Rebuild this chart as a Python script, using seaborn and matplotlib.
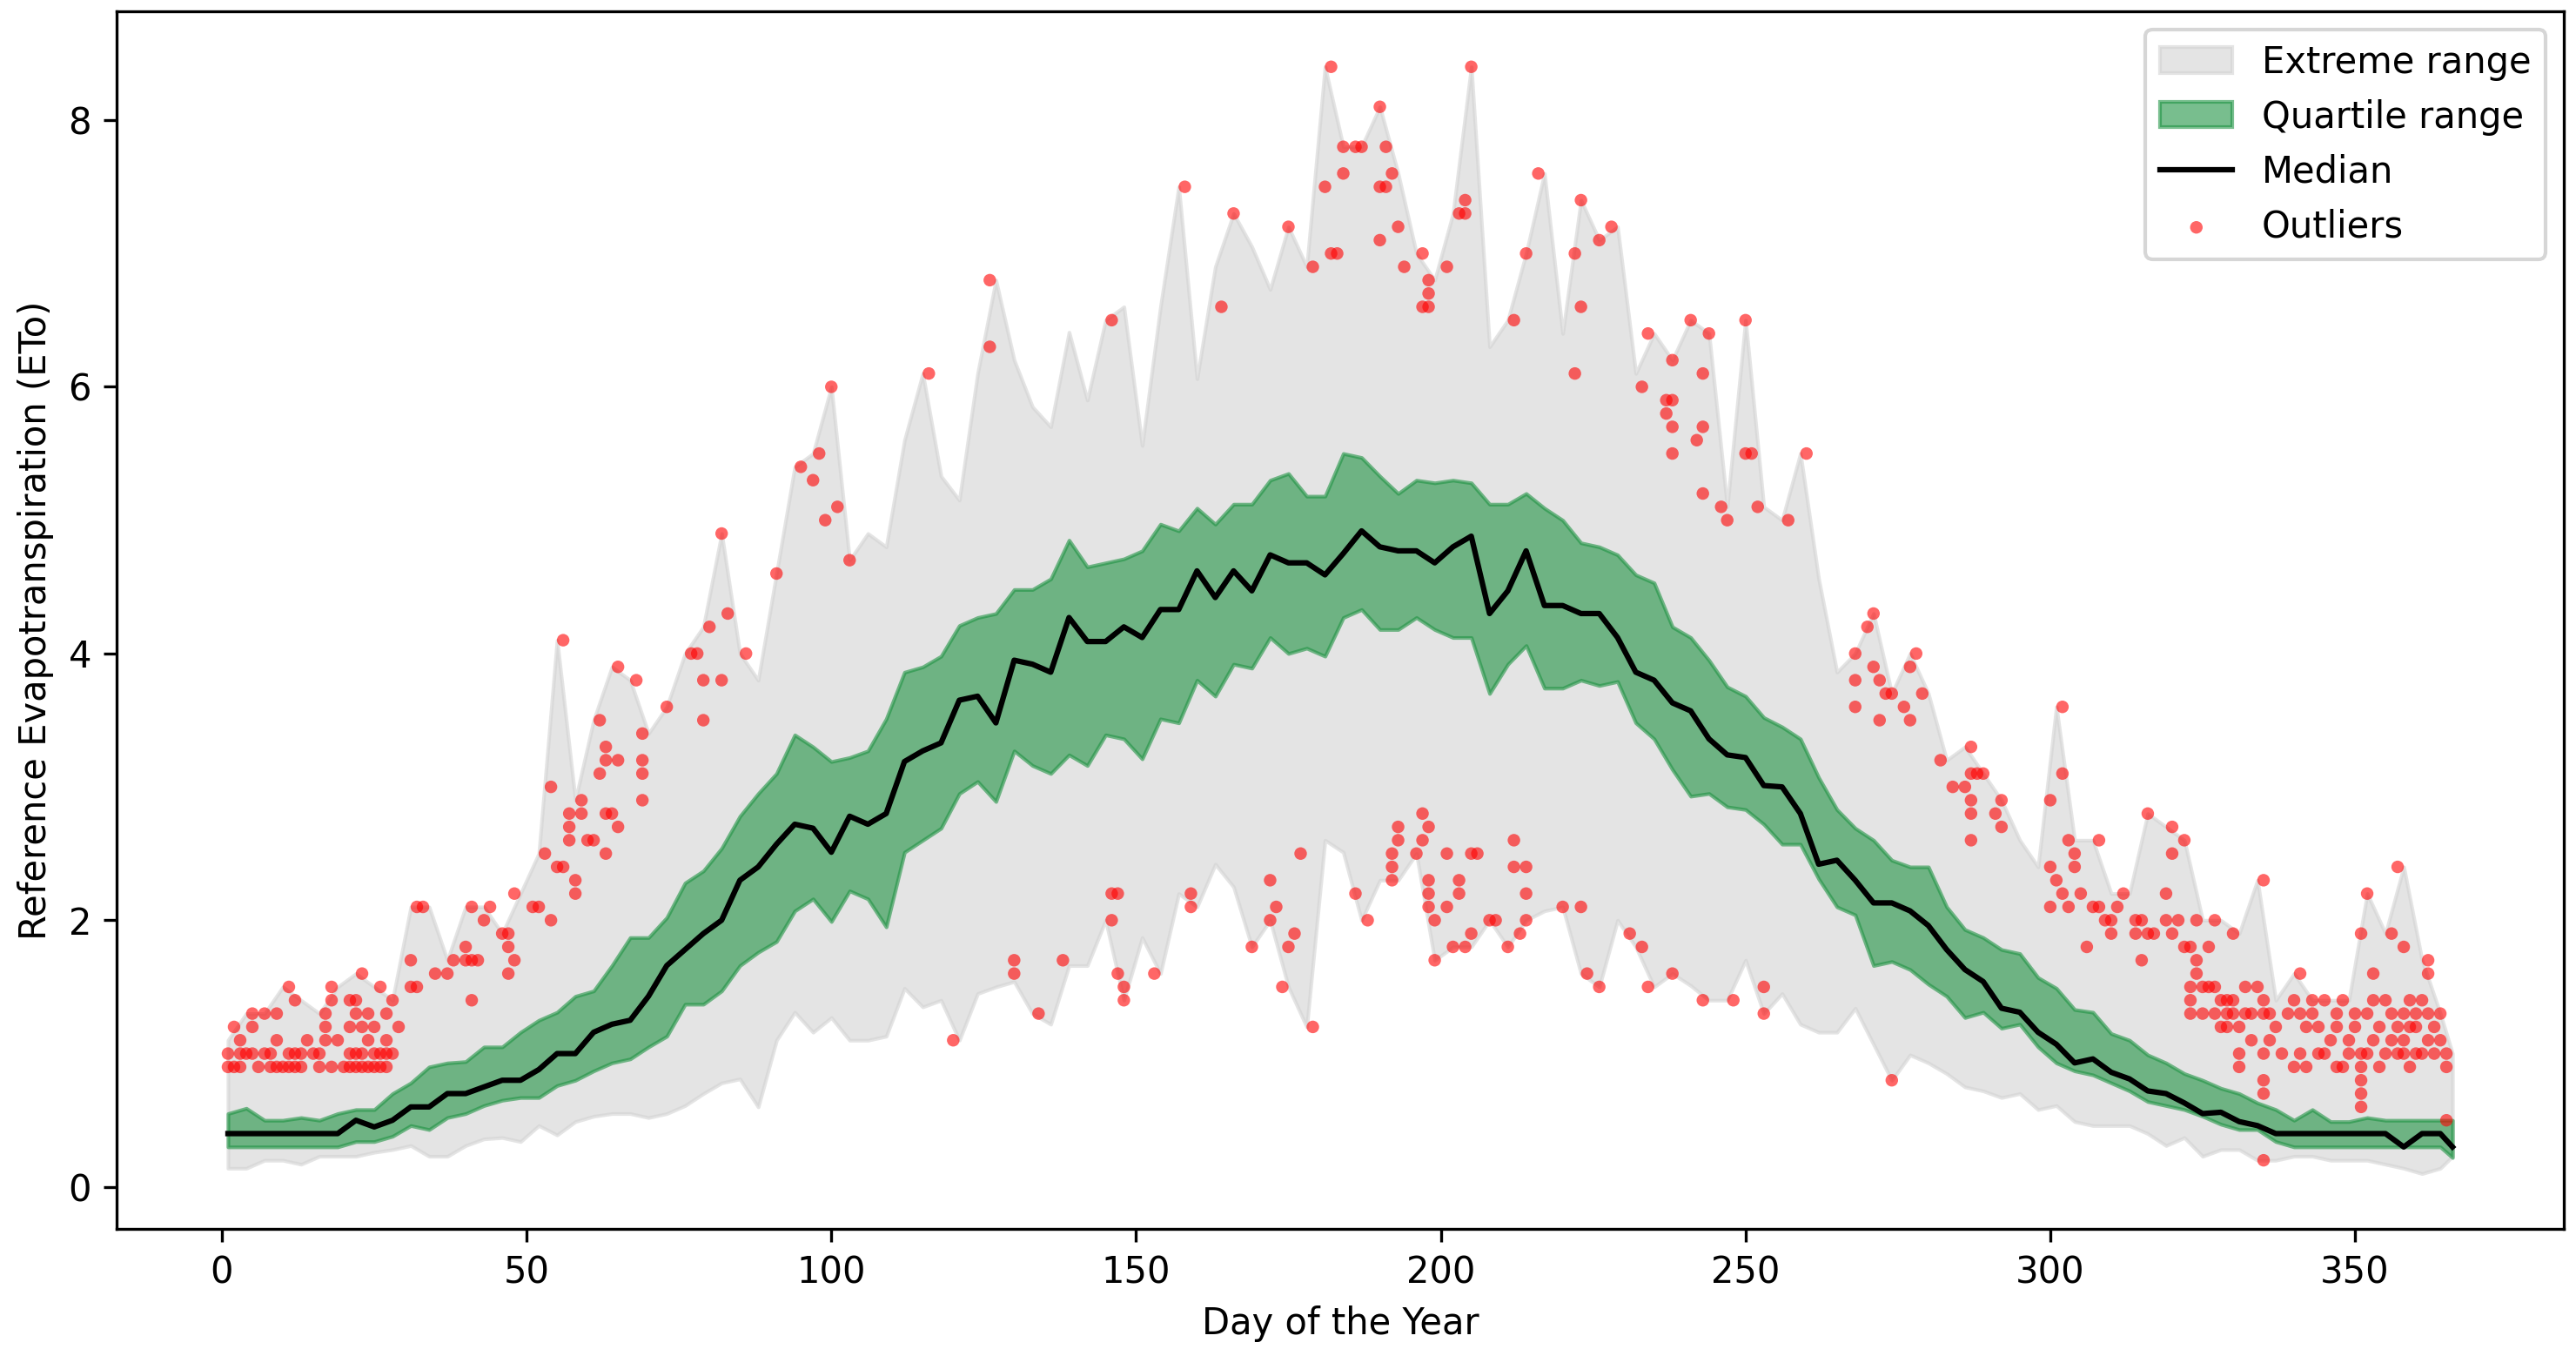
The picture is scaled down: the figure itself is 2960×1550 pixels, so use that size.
import matplotlib
matplotlib.use("Agg")
import matplotlib.pyplot as plt
import seaborn as sns

# ---------------- data ----------------
days = [1, 4, 7, 10, 13, 16, 19, 22, 25, 28, 31, 34, 37, 40, 43, 46, 49, 52, 55, 58,
        61, 64, 67, 70, 73, 76, 79, 82, 85, 88, 91, 94, 97, 100, 103, 106, 109, 112, 115, 118,
        121, 124, 127, 130, 133, 136, 139, 142, 145, 148, 151, 154, 157, 160, 163, 166, 169, 172, 175, 178,
        181, 184, 187, 190, 193, 196, 199, 202, 205, 208, 211, 214, 217, 220, 223, 226, 229, 232, 235, 238,
        241, 244, 247, 250, 253, 256, 259, 262, 265, 268, 271, 274, 277, 280, 283, 286, 289, 292, 295, 298,
        301, 304, 307, 310, 313, 316, 319, 322, 325, 328, 331, 334, 337, 340, 343, 346, 349, 352, 355, 358,
        361, 364, 366]

eto_median = [0.4, 0.4, 0.4, 0.4, 0.4, 0.4, 0.4, 0.5, 0.45, 0.5, 0.6, 0.6, 0.7, 0.7, 0.75, 0.8, 0.8, 0.88, 1.0, 1.0,
              1.16, 1.22, 1.25, 1.43, 1.66, 1.78, 1.9, 2.0, 2.3, 2.4, 2.57, 2.72, 2.69, 2.51, 2.78, 2.72, 2.8, 3.19, 3.27, 3.33,
              3.65, 3.68, 3.48, 3.95, 3.92, 3.86, 4.27, 4.09, 4.09, 4.2, 4.12, 4.33, 4.33, 4.62, 4.42, 4.62, 4.47, 4.74, 4.68, 4.68,
              4.59, 4.75, 4.92, 4.8, 4.77, 4.77, 4.68, 4.8, 4.88, 4.3, 4.47, 4.77, 4.36, 4.36, 4.3, 4.3, 4.12, 3.86, 3.8, 3.63,
              3.57, 3.36, 3.24, 3.22, 3.01, 3.0, 2.8, 2.42, 2.45, 2.3, 2.13, 2.13, 2.07, 1.96, 1.78, 1.63, 1.54, 1.34, 1.31, 1.16,
              1.07, 0.93, 0.96, 0.86, 0.81, 0.72, 0.7, 0.63, 0.55, 0.56, 0.49, 0.46, 0.4, 0.4, 0.4, 0.4, 0.4, 0.4, 0.4, 0.3,
              0.4, 0.4, 0.3]

eto_q3 = [0.55, 0.59, 0.5, 0.5, 0.52, 0.5, 0.55, 0.58, 0.58, 0.7, 0.78, 0.9, 0.93, 0.94, 1.05, 1.05, 1.16, 1.25, 1.31, 1.43,
          1.47, 1.66, 1.87, 1.87, 2.02, 2.28, 2.37, 2.54, 2.78, 2.95, 3.1, 3.39, 3.3, 3.19, 3.22, 3.27, 3.51, 3.86, 3.9, 3.98,
          4.21, 4.27, 4.3, 4.48, 4.48, 4.56, 4.85, 4.65, 4.68, 4.71, 4.77, 4.97, 4.92, 5.09, 4.97, 5.12, 5.12, 5.3, 5.35, 5.18,
          5.18, 5.5, 5.47, 5.33, 5.2, 5.3, 5.28, 5.3, 5.28, 5.12, 5.12, 5.2, 5.09, 5.0, 4.83, 4.8, 4.74, 4.59, 4.53, 4.2,
          4.12, 3.95, 3.75, 3.68, 3.52, 3.45, 3.36, 3.07, 2.83, 2.69, 2.6, 2.45, 2.4, 2.4, 2.1, 1.93, 1.87, 1.78, 1.75, 1.57,
          1.49, 1.33, 1.31, 1.15, 1.1, 0.99, 0.93, 0.85, 0.8, 0.74, 0.7, 0.63, 0.58, 0.5, 0.58, 0.49, 0.49, 0.52, 0.5, 0.5,
          0.5, 0.5, 0.5]

eto_q1 = [0.3, 0.3, 0.3, 0.3, 0.3, 0.3, 0.3, 0.34, 0.34, 0.38, 0.46, 0.43, 0.52, 0.55, 0.61, 0.65, 0.67, 0.67, 0.76, 0.8,
          0.87, 0.93, 0.96, 1.05, 1.13, 1.37, 1.37, 1.47, 1.66, 1.76, 1.84, 2.07, 2.16, 1.99, 2.22, 2.16, 1.95, 2.51, 2.6, 2.69,
          2.95, 3.04, 2.89, 3.27, 3.16, 3.1, 3.24, 3.16, 3.39, 3.36, 3.21, 3.51, 3.48, 3.8, 3.68, 3.92, 3.89, 4.12, 4.0, 4.04,
          3.98, 4.27, 4.33, 4.18, 4.18, 4.27, 4.18, 4.12, 4.12, 3.7, 3.92, 4.06, 3.74, 3.74, 3.8, 3.76, 3.79, 3.48, 3.36, 3.13,
          2.93, 2.95, 2.85, 2.83, 2.72, 2.57, 2.57, 2.31, 2.1, 2.04, 1.66, 1.69, 1.63, 1.52, 1.43, 1.27, 1.31, 1.19, 1.22, 1.05,
          0.93, 0.87, 0.84, 0.78, 0.72, 0.64, 0.61, 0.58, 0.53, 0.47, 0.43, 0.43, 0.34, 0.3, 0.3, 0.3, 0.3, 0.3, 0.3, 0.3,
          0.3, 0.3, 0.22]

eto_min = [0.14, 0.14, 0.2, 0.2, 0.17, 0.23, 0.23, 0.23, 0.26, 0.28, 0.31, 0.23, 0.23, 0.31, 0.36, 0.37, 0.34, 0.46, 0.39, 0.49,
           0.53, 0.55, 0.55, 0.52, 0.55, 0.61, 0.7, 0.78, 0.81, 0.6, 1.1, 1.31, 1.16, 1.27, 1.1, 1.1, 1.13, 1.49, 1.35, 1.4,
           1.1, 1.45, 1.5, 1.54, 1.3, 1.22, 1.66, 1.66, 2.0, 1.4, 1.87, 1.6, 2.2, 2.1, 2.42, 2.25, 1.8, 2.0, 1.5, 1.2,
           2.6, 2.51, 2.0, 2.3, 2.3, 2.5, 1.7, 1.8, 1.8, 2.0, 1.8, 2.0, 2.07, 2.1, 1.6, 1.5, 2.0, 1.8, 1.5, 1.6,
           1.51, 1.4, 1.4, 1.7, 1.3, 1.45, 1.22, 1.16, 1.16, 1.34, 1.07, 0.8, 0.99, 0.93, 0.85, 0.75, 0.72, 0.67, 0.7, 0.58,
           0.61, 0.49, 0.46, 0.46, 0.46, 0.4, 0.31, 0.37, 0.23, 0.28, 0.28, 0.2, 0.2, 0.23, 0.23, 0.2, 0.2, 0.2, 0.17, 0.14,
           0.1, 0.14, 0.23]

eto_max = [1.1, 1.3, 1.3, 1.5, 1.4, 1.3, 1.5, 1.6, 1.5, 1.4, 2.1, 2.1, 1.7, 2.1, 2.1, 1.9, 2.2, 2.5, 4.1, 2.9,
           3.5, 3.9, 3.8, 3.4, 3.6, 4.0, 4.2, 4.9, 4.0, 3.8, 4.6, 5.4, 5.5, 6.0, 4.7, 4.9, 4.8, 5.6, 6.1, 5.33,
           5.15, 6.1, 6.8, 6.2, 5.85, 5.7, 6.41, 5.9, 6.5, 6.6, 5.56, 6.6, 7.5, 6.06, 6.9, 7.3, 7.05, 6.73, 7.2, 6.9,
           8.4, 7.8, 7.8, 8.1, 7.6, 7.0, 6.8, 7.3, 8.4, 6.3, 6.5, 7.0, 7.6, 6.4, 7.4, 7.1, 7.2, 6.1, 6.4, 6.2,
           6.5, 6.4, 5.1, 6.5, 5.1, 5.0, 5.5, 4.56, 3.86, 4.0, 4.3, 3.7, 4.0, 3.7, 3.2, 3.3, 3.1, 2.9, 2.6, 2.4,
           3.6, 2.6, 2.6, 2.2, 2.2, 2.8, 2.7, 2.6, 2.0, 2.0, 1.9, 2.3, 1.4, 1.6, 1.4, 1.4, 1.4, 2.2, 1.9, 2.4,
           1.7, 1.3, 1.0]

outlier_day = [
    # days 1-30
    1, 3, 6, 8, 10, 11, 13, 16, 18, 21, 22, 23, 25, 27, 2, 9, 12, 20, 24, 26,
    1, 3, 5, 7, 8, 11, 12, 13, 16, 21, 23, 25, 27, 4, 15, 26, 28, 22,
    3, 9, 14, 17, 19, 24, 27,
    2, 5, 17, 21, 23, 25, 29,
    5, 7, 9, 17, 22, 24, 27,
    12, 18, 21, 22, 28,
    11, 18, 26, 23,
    # days 31-66
    31, 31, 32, 32, 33, 35, 37, 38, 40, 40, 41, 42, 41, 41, 43, 44, 46, 47, 48, 47,
    48, 47, 51, 52, 54, 53, 54, 55, 56, 56, 57, 57, 57, 58, 58, 59, 59, 60, 61, 62,
    63, 63, 62, 63, 63, 64, 65, 65, 65,
    # days 67-138
    68, 69, 69, 69, 69, 73, 77, 78, 79, 79, 80, 82, 82, 83, 86, 91, 95, 97, 98, 99,
    100, 101, 103, 116, 120, 126, 126, 130, 130, 134, 138,
    # days 140-208 upper
    146, 158, 164, 166, 175, 179, 181, 182, 182, 183, 184, 184, 186, 187, 190, 190, 190, 191, 191, 192,
    193, 194, 197, 198, 198, 197, 198, 201, 203, 204, 204, 205,
    # days 140-208 lower
    146, 147, 146, 147, 148, 148, 153, 159, 159, 169, 172, 173, 172, 175, 174, 176, 177, 179, 186, 188,
    192, 192, 193, 193, 192, 197, 198, 196, 197, 198, 198, 198, 199, 199, 201, 201, 202, 203, 203, 204,
    205, 205, 208,
    # days 206-284 upper
    212, 214, 216, 222, 222, 223, 223, 226, 228, 233, 234, 237, 238, 238, 237, 238, 238, 241, 243, 244,
    243, 242, 243, 246, 247, 250, 250, 251, 252, 257, 260, 268, 268, 268, 270, 271, 271, 272, 272, 273,
    274, 276, 277, 277, 278, 279, 282, 284,
    # days 206-284 lower
    206, 209, 211, 212, 212, 213, 214, 214, 214, 220, 223, 224, 226, 231, 233, 234, 238, 243, 248, 253,
    253, 274,
    # days 285-366
    286, 287, 287, 287, 287, 287, 288, 289, 291, 292, 292, 300, 302, 302, 300, 301, 302, 300, 303, 303,
    304, 304, 305, 306, 307, 308, 308, 309, 310, 310, 311, 312, 314, 314, 315, 316, 316, 315, 317, 319,
    319, 320, 320, 320, 321, 322, 322, 323, 323, 323, 323, 324, 324, 324, 325, 325, 326, 327, 327, 328,
    329, 329, 329, 330, 330, 331, 331, 331, 332, 333, 334, 335, 335, 335, 335, 335, 335, 335, 337, 338,
    340, 341, 341, 341, 342, 343, 344, 345, 347, 347, 348, 349, 350, 351, 351, 351, 351, 351, 351, 352,
    352, 353, 354, 354, 356, 356, 357, 358, 358, 358, 359, 359, 360, 360, 362, 362, 362, 364, 365, 365,
    365,
    326, 327, 328, 330, 332, 333, 336, 336, 339, 340, 342, 343, 344, 345, 346, 347, 348, 349, 350, 352,
    353, 353, 355, 355, 356, 357, 357, 358, 359, 360, 361, 361, 362, 363, 363, 364,
]

outlier_eto = [
    # days 1-30
    0.9, 0.9, 0.9, 0.9, 0.9, 0.9, 0.9, 0.9, 0.9, 0.9, 0.9, 0.9, 0.9, 0.9, 0.9, 0.9, 0.9, 0.9, 0.9, 0.9,
    1.0, 1.0, 1.0, 1.0, 1.0, 1.0, 1.0, 1.0, 1.0, 1.0, 1.0, 1.0, 1.0, 1.0, 1.0, 1.0, 1.0, 1.0,
    1.1, 1.1, 1.1, 1.1, 1.1, 1.1, 1.1,
    1.2, 1.2, 1.2, 1.2, 1.2, 1.2, 1.2,
    1.3, 1.3, 1.3, 1.3, 1.3, 1.3, 1.3,
    1.4, 1.4, 1.4, 1.4, 1.4,
    1.5, 1.5, 1.5, 1.6,
    # days 31-66
    1.7, 1.5, 1.5, 2.1, 2.1, 1.6, 1.6, 1.7, 1.7, 1.8, 1.7, 1.7, 1.4, 2.1, 2.0, 2.1, 1.9, 1.9, 2.2, 1.8,
    1.7, 1.6, 2.1, 2.1, 2.0, 2.5, 3.0, 2.4, 4.1, 2.4, 2.7, 2.6, 2.8, 2.3, 2.2, 2.9, 2.8, 2.6, 2.6, 3.5,
    3.3, 3.2, 3.1, 2.8, 2.5, 2.8, 3.9, 3.2, 2.7,
    # days 67-138
    3.8, 3.4, 3.2, 3.1, 2.9, 3.6, 4.0, 4.0, 3.8, 3.5, 4.2, 4.9, 3.8, 4.3, 4.0, 4.6, 5.4, 5.3, 5.5, 5.0,
    6.0, 5.1, 4.7, 6.1, 1.1, 6.8, 6.3, 1.7, 1.6, 1.3, 1.7,
    # days 140-208 upper
    6.5, 7.5, 6.6, 7.3, 7.2, 6.9, 7.5, 8.4, 7.0, 7.0, 7.8, 7.6, 7.8, 7.8, 8.1, 7.5, 7.1, 7.8, 7.5, 7.6,
    7.2, 6.9, 7.0, 6.8, 6.7, 6.6, 6.6, 6.9, 7.3, 7.3, 7.4, 8.4,
    # days 140-208 lower
    2.2, 2.2, 2.0, 1.6, 1.5, 1.4, 1.6, 2.2, 2.1, 1.8, 2.3, 2.1, 2.0, 1.8, 1.5, 1.9, 2.5, 1.2, 2.2, 2.0,
    2.4, 2.5, 2.7, 2.6, 2.3, 2.8, 2.7, 2.5, 2.6, 2.3, 2.2, 2.1, 2.0, 1.7, 2.5, 2.1, 1.8, 2.3, 2.2, 1.8,
    2.5, 1.9, 2.0,
    # days 206-284 upper
    6.5, 7.0, 7.6, 7.0, 6.1, 7.4, 6.6, 7.1, 7.2, 6.0, 6.4, 5.9, 6.2, 5.9, 5.8, 5.7, 5.5, 6.5, 6.1, 6.4,
    5.7, 5.6, 5.2, 5.1, 5.0, 6.5, 5.5, 5.5, 5.1, 5.0, 5.5, 4.0, 3.8, 3.6, 4.2, 4.3, 3.9, 3.5, 3.8, 3.7,
    3.7, 3.6, 3.5, 3.9, 4.0, 3.7, 3.2, 3.0,
    # days 206-284 lower
    2.5, 2.0, 1.8, 2.6, 2.4, 1.9, 2.4, 2.2, 2.0, 2.1, 2.1, 1.6, 1.5, 1.9, 1.8, 1.5, 1.6, 1.4, 1.4, 1.5,
    1.3, 0.8,
    # days 285-366
    3.0, 3.3, 3.1, 2.9, 2.8, 2.6, 3.1, 3.1, 2.8, 2.9, 2.7, 2.9, 3.6, 3.1, 2.4, 2.3, 2.2, 2.1, 2.1, 2.6,
    2.5, 2.4, 2.2, 1.8, 2.1, 2.6, 2.1, 2.0, 2.0, 1.9, 2.1, 2.2, 2.0, 1.9, 2.0, 2.8, 1.9, 1.7, 1.9, 2.0,
    2.2, 2.7, 2.5, 1.9, 2.0, 2.6, 1.8, 1.5, 1.4, 1.3, 1.8, 2.0, 1.7, 1.6, 1.5, 1.3, 1.8, 2.0, 1.5, 1.4,
    1.3, 1.2, 1.4, 1.9, 1.3, 1.2, 1.0, 0.9, 1.3, 1.1, 1.5, 2.3, 1.4, 1.3, 1.0, 0.8, 0.7, 0.2, 1.2, 1.0,
    0.9, 1.6, 1.3, 1.0, 0.9, 1.4, 1.0, 1.4, 1.3, 0.9, 0.9, 1.1, 1.3, 1.9, 1.0, 0.9, 0.8, 0.7, 0.6, 2.2,
    1.0, 1.6, 1.2, 0.9, 1.9, 1.3, 2.4, 1.1, 1.0, 1.8, 1.4, 0.9, 1.2, 1.3, 1.7, 1.6, 1.1, 1.3, 0.9, 1.0,
    0.5,
    1.5, 1.3, 1.2, 1.4, 1.5, 1.3, 1.3, 1.1, 1.3, 1.4, 1.2, 1.3, 1.2, 1.0, 1.1, 1.2, 1.4, 1.0, 1.2, 1.3,
    1.4, 1.1, 1.0, 1.4, 1.1, 1.0, 1.2, 1.3, 1.2, 1.0, 1.4, 1.0, 1.3, 1.0, 1.2, 1.1,
]

# ---------------- figure ----------------
fig = plt.figure(figsize=(9.87, 5.1667), dpi=300)
ax = fig.add_axes([0.0453, 0.089, 0.9496, 0.9025])

ax.fill_between(days, eto_min, eto_max, color="lightgray", alpha=0.6, label="Extreme range")
ax.fill_between(days, eto_q1, eto_q3, color="#1f9343", alpha=0.6, label="Quartile range")
sns.lineplot(x=days, y=eto_median, color="black", linewidth=1.5, label="Median", ax=ax)
sns.scatterplot(x=outlier_day, y=outlier_eto, color="red", s=12, alpha=0.6,
                linewidth=0, edgecolor="none", label="Outliers", ax=ax, zorder=3)

ax.set_xlabel("Day of the Year")
ax.set_ylabel("Reference Evapotranspiration (ETo)")

handles, labels = ax.get_legend_handles_labels()
order = ["Extreme range", "Quartile range", "Median", "Outliers"]
hmap = dict(zip(labels, handles))
ax.legend([hmap[k] for k in order], order, loc="upper right")

fig.savefig("out.png", dpi=300)
